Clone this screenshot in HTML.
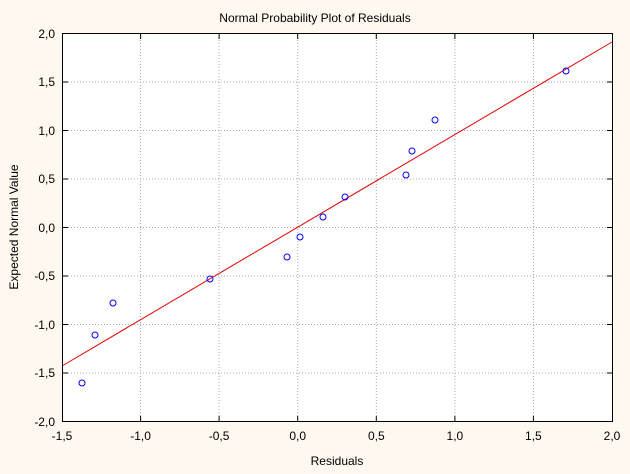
<!DOCTYPE html><html><head><style>body{margin:0;background:#FFF8EE}svg{display:block}text{font-family:"Liberation Sans",sans-serif;font-size:12px;fill:#000}</style></head><body>
<svg width="630" height="474" xmlns="http://www.w3.org/2000/svg">
<rect width="630" height="474" fill="#FFF8EE"/>
<rect x="62" y="33.5" width="550" height="388" fill="#fff"/>
<g stroke="#aaa" stroke-dasharray="1,2" stroke-width="1">
<line x1="140.6" y1="34" x2="140.6" y2="421"/><line x1="219.1" y1="34" x2="219.1" y2="421"/><line x1="297.7" y1="34" x2="297.7" y2="421"/><line x1="376.3" y1="34" x2="376.3" y2="421"/><line x1="454.9" y1="34" x2="454.9" y2="421"/><line x1="533.4" y1="34" x2="533.4" y2="421"/>
<line x1="62" y1="82" x2="612" y2="82"/><line x1="62" y1="130.5" x2="612" y2="130.5"/><line x1="62" y1="179" x2="612" y2="179"/><line x1="62" y1="227.5" x2="612" y2="227.5"/><line x1="62" y1="276" x2="612" y2="276"/><line x1="62" y1="324.5" x2="612" y2="324.5"/><line x1="62" y1="373" x2="612" y2="373"/>
</g>
<line x1="62" y1="366" x2="612" y2="42" stroke="#e00000" stroke-width="1"/>
<g fill="none" stroke="#0000ff" stroke-width="1">
<circle cx="82" cy="383" r="3"/><circle cx="95" cy="335" r="3"/><circle cx="113" cy="303" r="3"/><circle cx="210" cy="279" r="3"/><circle cx="287" cy="257" r="3"/><circle cx="300" cy="237" r="3"/><circle cx="323" cy="217" r="3"/><circle cx="345" cy="197" r="3"/><circle cx="406" cy="175" r="3"/><circle cx="412" cy="151" r="3"/><circle cx="435" cy="120" r="3"/><circle cx="566" cy="71" r="3"/>
</g>
<rect x="62.5" y="33.5" width="550" height="388" fill="none" stroke="#000" stroke-width="1"/>
<g stroke="#000">
<line x1="140.6" y1="421" x2="140.6" y2="416"/><line x1="219.1" y1="421" x2="219.1" y2="416"/><line x1="297.7" y1="421" x2="297.7" y2="416"/><line x1="376.3" y1="421" x2="376.3" y2="416"/><line x1="454.9" y1="421" x2="454.9" y2="416"/><line x1="533.4" y1="421" x2="533.4" y2="416"/>
<line x1="140.6" y1="34" x2="140.6" y2="39"/><line x1="219.1" y1="34" x2="219.1" y2="39"/><line x1="297.7" y1="34" x2="297.7" y2="39"/><line x1="376.3" y1="34" x2="376.3" y2="39"/><line x1="454.9" y1="34" x2="454.9" y2="39"/><line x1="533.4" y1="34" x2="533.4" y2="39"/>
<line x1="63" y1="82" x2="68" y2="82"/><line x1="63" y1="130.5" x2="68" y2="130.5"/><line x1="63" y1="179" x2="68" y2="179"/><line x1="63" y1="227.5" x2="68" y2="227.5"/><line x1="63" y1="276" x2="68" y2="276"/><line x1="63" y1="324.5" x2="68" y2="324.5"/><line x1="63" y1="373" x2="68" y2="373"/>
<line x1="612" y1="82" x2="607" y2="82"/><line x1="612" y1="130.5" x2="607" y2="130.5"/><line x1="612" y1="179" x2="607" y2="179"/><line x1="612" y1="227.5" x2="607" y2="227.5"/><line x1="612" y1="276" x2="607" y2="276"/><line x1="612" y1="324.5" x2="607" y2="324.5"/><line x1="612" y1="373" x2="607" y2="373"/>
</g>
<text x="315" y="22" text-anchor="middle">Normal Probability Plot of Residuals</text>
<g text-anchor="end">
<text x="55" y="38">2,0</text><text x="55" y="86">1,5</text><text x="55" y="135">1,0</text><text x="55" y="183">0,5</text><text x="55" y="232">0,0</text><text x="55" y="280">-0,5</text><text x="55" y="329">-1,0</text><text x="55" y="377">-1,5</text><text x="55" y="426">-2,0</text>
</g>
<g text-anchor="middle">
<text x="62" y="440">-1,5</text><text x="140.6" y="440">-1,0</text><text x="219.1" y="440">-0,5</text><text x="297.7" y="440">0,0</text><text x="376.3" y="440">0,5</text><text x="454.9" y="440">1,0</text><text x="533.4" y="440">1,5</text><text x="612" y="440">2,0</text>
</g>
<text x="337" y="465" text-anchor="middle">Residuals</text>
<text transform="translate(18,227) rotate(-90)" text-anchor="middle">Expected Normal Value</text>
</svg></body></html>
